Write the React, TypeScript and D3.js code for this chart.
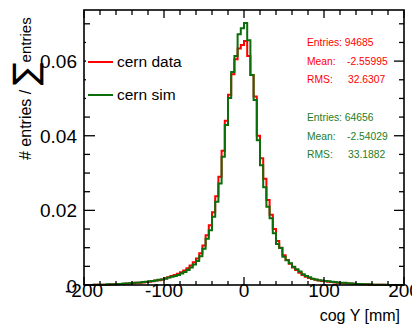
import React from "react";
import * as d3 from "d3";

const xMin = -200;
const xMax = 200;
const binWidth = 4;

// normalised entries per 4 mm bin, from -200 to 200
const dataValues = [
  0, 0, 0, 0.0001, 0.0001, 0.0001, 0.0001, 0.0001, 0.0002, 0.0002,
  0.0002, 0.0003, 0.0003, 0.0004, 0.0004, 0.0005, 0.0006, 0.0006, 0.0007, 0.0008,
  0.0009, 0.0010, 0.0012, 0.0013, 0.0015, 0.0018, 0.0021, 0.0024, 0.0027, 0.0030,
  0.0034, 0.0039, 0.0045, 0.0052, 0.0061, 0.0071, 0.0085, 0.0106, 0.0133, 0.0160,
  0.0195, 0.0238, 0.0290, 0.0360, 0.0440, 0.0510, 0.0565, 0.0605, 0.0634, 0.0643,
  0.0654, 0.0614, 0.0563, 0.0505, 0.0400, 0.0340, 0.0285, 0.0228, 0.0188, 0.0150,
  0.0118, 0.0100, 0.0080, 0.0067, 0.0057, 0.0047, 0.0040, 0.0033, 0.0027, 0.0022,
  0.0019, 0.0016, 0.0014, 0.0012, 0.0011, 0.0010, 0.0009, 0.0008, 0.0007, 0.0006,
  0.0005, 0.0005, 0.0004, 0.0004, 0.0003, 0.0003, 0.0002, 0.0002, 0.0002, 0.0001,
  0.0001, 0.0001, 0.0001, 0.0001, 0, 0, 0, 0, 0, 0,
];

const simValues = [
  0, 0, 0, 0.0001, 0.0001, 0.0001, 0.0001, 0.0002, 0.0002, 0.0002,
  0.0003, 0.0003, 0.0004, 0.0004, 0.0005, 0.0006, 0.0006, 0.0007, 0.0008, 0.0009,
  0.0010, 0.0011, 0.0012, 0.0014, 0.0015, 0.0017, 0.0020, 0.0022, 0.0024, 0.0027,
  0.0031, 0.0035, 0.0040, 0.0047, 0.0055, 0.0064, 0.0077, 0.0097, 0.0124, 0.0147,
  0.0183, 0.0223, 0.0272, 0.0344, 0.0429, 0.0501, 0.0571, 0.0614, 0.0672, 0.0688,
  0.0702, 0.0656, 0.0563, 0.0496, 0.0388, 0.0321, 0.0262, 0.0210, 0.0179, 0.0139,
  0.0110, 0.0099, 0.0076, 0.0066, 0.0058, 0.0049, 0.0042, 0.0036, 0.0029, 0.0024,
  0.0021, 0.0017, 0.0015, 0.0013, 0.0012, 0.0011, 0.0010, 0.0009, 0.0008, 0.0007,
  0.0006, 0.0006, 0.0005, 0.0004, 0.0004, 0.0003, 0.0003, 0.0002, 0.0002, 0.0002,
  0.0001, 0.0001, 0.0001, 0.0001, 0.0001, 0, 0, 0, 0, 0,
];

const xTickLabels = ["-200", "-100", "0", "100", "200"];
const yTickLabels = ["0", "0.02", "0.04", "0.06"];

const seriesNames = ["cern data", "cern sim"];
const dataStats = ["Entries: 94685", "-2.55995", "32.6307"];
const simStats = ["Entries: 64656", "-2.54029", "33.1882"];

const RED = "#ff0000";
const GREEN = "#0b6e0b";
const GREEN_TEXT = "#1e7d1e";
const FONT = "'Liberation Sans', Arial, Helvetica, sans-serif";

const L = 84, R = 404, T = 10, B = 285;

export default function App() {
  const x = d3.scaleLinear().domain([xMin, xMax]).range([L, R]);
  const y = d3.scaleLinear().domain([0, 0.0737]).range([B, T]);

  const histPath = (vals: number[]) => {
    const pts: [number, number][] = [[x(xMin), y(0)]];
    vals.forEach((v, i) => {
      const a = xMin + i * binWidth;
      pts.push([x(a), y(v)]);
      pts.push([x(a + binWidth), y(v)]);
    });
    pts.push([x(xMax), y(0)]);
    return d3.line()(pts) as string;
  };

  const xMinor = d3.range(xMin, xMax + 0.1, 20);
  const xMajor = xTickLabels.map(Number);
  const yMinor = d3.range(0, 0.0737, 0.005);
  const yMajor = yTickLabels.map(Number);

  return (
    <div style={{ position: "absolute", left: 0, top: 0 }}>
      <svg width={412} height={326} style={{ display: "block", background: "#fff" }}>
        <rect x={0} y={0} width={412} height={326} fill="#fff" />
        {/* histograms */}
        <path d={histPath(dataValues)} fill="none" stroke={RED} strokeWidth={2} />
        <path d={histPath(simValues)} fill="none" stroke={GREEN} strokeWidth={2} />

        {/* ticks */}
        <g stroke="#000" strokeWidth={1.3}>
          {xMinor.map((v) => {
            const maj = xMajor.includes(v);
            return (
              <g key={"xt" + v}>
                <line x1={x(v)} x2={x(v)} y1={B} y2={B - (maj ? 8 : 4)} />
                <line x1={x(v)} x2={x(v)} y1={T} y2={T + (maj ? 8 : 5)} />
              </g>
            );
          })}
          {yMinor.map((v) => {
            const maj = yMajor.some((m) => Math.abs(m - v) < 1e-6);
            return (
              <g key={"yt" + v}>
                <line x1={L} x2={L + (maj ? 11 : 6)} y1={y(v)} y2={y(v)} />
                <line x1={R} x2={R - (maj ? 10 : 5)} y1={y(v)} y2={y(v)} />
              </g>
            );
          })}
        </g>

        {/* legend box */}
        <rect x={86} y={26} width={110} height={88} fill="#fff" />
        {seriesNames.map((n, i) => (
          <g key={n}>
            <line x1={88} x2={113} y1={62 + i * 33} y2={62 + i * 33} stroke={i === 0 ? RED : GREEN} strokeWidth={2} />
            <text x={117} y={62 + i * 33 + 5} fontFamily={FONT} fontSize={15.5} fill="#000">{n}</text>
          </g>
        ))}

        {/* frame */}
        <rect x={L} y={T} width={R - L} height={B - T} fill="none" stroke="#000" strokeWidth={1.6} />

        {/* stats */}
        {[dataStats, simStats].map((s, k) => {
          const base = k === 0 ? 46 : 121;
          const col = k === 0 ? RED : GREEN_TEXT;
          return (
            <g key={"st" + k} fontFamily={FONT} fontSize={10.3} fill={col}>
              <text x={307} y={base}>{s[0]}</text>
              <text x={307} y={base + 18.5}>Mean:</text>
              <text x={347} y={base + 18.5}>{s[1]}</text>
              <text x={307} y={base + 37}>RMS:</text>
              <text x={348} y={base + 37}>{s[2]}</text>
            </g>
          );
        })}

        {/* x labels */}
        {xTickLabels.map((t) => (
          <text key={"xl" + t} x={x(+t)} y={297} textAnchor="middle" fontFamily={FONT} fontSize={19} fill="#000">{t}</text>
        ))}
        {/* y labels */}
        {yTickLabels.map((t) => (
          <text key={"yl" + t} x={77} y={y(+t) + (t === "0" ? 8 : 7)} textAnchor="end" fontFamily={FONT} fontSize={19} fill="#000">{t}</text>
        ))}

        {/* axis titles */}
        <text x={400} y={321} textAnchor="end" fontFamily={FONT} fontSize={16} fill="#000">cog Y [mm]</text>
        <text transform="translate(31,160) rotate(-90)" fontFamily={FONT} fontSize={16} fill="#000">
          <tspan># entries / </tspan>
          <tspan fontSize={34} fontFamily="'DejaVu Sans', sans-serif" dy={6}>∑</tspan>
          <tspan fontSize={15} dy={-6}>entries</tspan>
        </text>
      </svg>
    </div>
  );
}
